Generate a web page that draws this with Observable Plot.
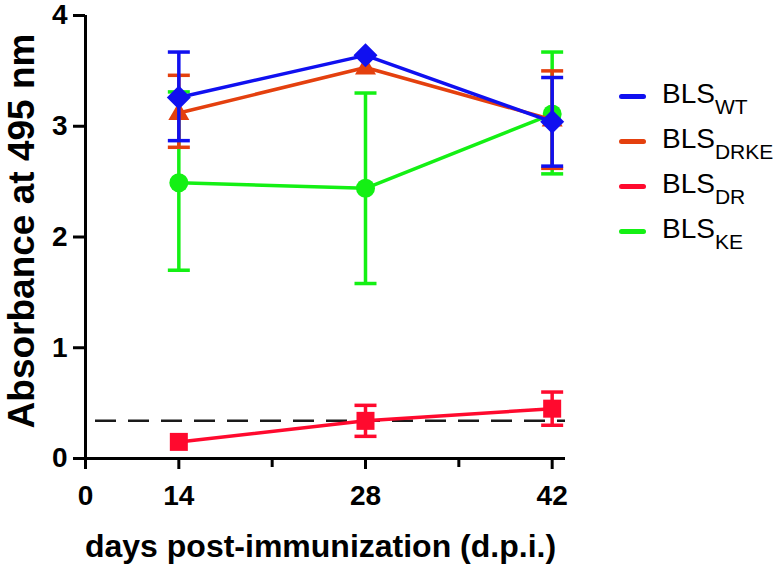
<!DOCTYPE html>
<html>
<head>
<meta charset="utf-8">
<script src="https://cdn.jsdelivr.net/npm/d3@7"></script>
<script src="https://cdn.jsdelivr.net/npm/@observablehq/plot@0.6"></script>
<style>
  html, body { margin: 0; padding: 0; background: #fff; }
  #wrap { position: relative; width: 782px; height: 574px; font-family: "Liberation Sans", Arial, sans-serif; }
  #legend { position: absolute; left: 619px; top: 80px; }
  .row { position: relative; height: 45px; }
  .sw { position: absolute; left: 0; top: 14px; width: 27px; height: 5px; border-radius: 3px; }
  .lbl { position: absolute; left: 43px; top: -1px; font-size: 28px; line-height: 30px; color: #000; white-space: nowrap; }
  .lbl sub { font-size: 21px; vertical-align: -11px; line-height: 0; }
</style>
</head>
<body>
<div id="wrap"><div id="legend"></div></div>
<script>
// ---- data ----
const days = [14, 28, 42];
const seriesNames = ["WT", "DRKE", "DR", "KE"];
const seriesColors = ["#1010F0", "#E4400E", "#FF0A2E", "#14F014"];
const wtMean   = [3.26, 3.64, 3.04];
const wtLow    = [2.87, 3.64, 2.64];
const wtHigh   = [3.67, 3.64, 3.44];
const drkeMean = [3.12, 3.53, 3.06];
const drkeLow  = [2.81, 3.53, 2.62];
const drkeHigh = [3.46, 3.53, 3.50];
const drMean   = [0.15, 0.34, 0.45];
const drLow    = [0.15, 0.20, 0.30];
const drHigh   = [0.15, 0.48, 0.60];
const keMean   = [2.49, 2.44, 3.11];
const keLow    = [1.70, 1.58, 2.57];
const keHigh   = [3.31, 3.30, 3.67];
const cutoff = 0.34;
const xTicks = [7, 14, 28, 42];       // the axis origin is drawn and labelled "0"
const xTickLabels = ["0", "14", "28", "42"];
const xMinorTicks = [21, 35];
const yTicks = [0, 1, 2, 3, 4];
const yTitle = "Absorbance at 495 nm";
const xTitle = "days post-immunization (d.p.i.)";

function rows(name, mean, low, high) {
  return days.map((d, i) => ({series: name, day: d, mean: mean[i], low: low[i], high: high[i]}));
}
const allSeries = {
  WT: rows("WT", wtMean, wtLow, wtHigh),
  DRKE: rows("DRKE", drkeMean, drkeLow, drkeHigh),
  DR: rows("DR", drMean, drLow, drHigh),
  KE: rows("KE", keMean, keLow, keHigh)
};
const colorOf = Object.fromEntries(seriesNames.map((n, i) => [n, seriesColors[i]]));

// ---- custom symbols ----
const capSym = {draw(c) { c.moveTo(-11, 0); c.lineTo(11, 0); }};
const diamondSym = {draw(c) { c.moveTo(0, -12); c.lineTo(12, 0); c.lineTo(0, 12); c.lineTo(-12, 0); c.closePath(); }};
const triSym = {draw(c) { c.moveTo(0, -11); c.lineTo(10.5, 7); c.lineTo(-10.5, 7); c.closePath(); }};
const sqSym = {draw(c) { c.moveTo(-9, -9); c.lineTo(9, -9); c.lineTo(9, 9); c.lineTo(-9, 9); c.closePath(); }};
const circSym = {draw(c) { c.moveTo(9.5, 0); c.arc(0, 0, 9.5, 0, 2 * Math.PI); }};
const symbolOf = {WT: diamondSym, DRKE: triSym, DR: sqSym, KE: circSym};

const drawOrder = ["KE", "DR", "DRKE", "WT"];
const seriesMarks = drawOrder.flatMap(name => {
  const data = allSeries[name];
  const col = colorOf[name];
  const err = data.filter(d => d.high > d.low);
  return [
    Plot.line(data, {x: "day", y: "mean", stroke: col, strokeWidth: 3.5}),
    Plot.ruleX(err, {x: "day", y1: "low", y2: "high", stroke: col, strokeWidth: 3.5}),
    Plot.dot(err, {x: "day", y: "low", symbol: capSym, stroke: col, strokeWidth: 3.5, fill: "none"}),
    Plot.dot(err, {x: "day", y: "high", symbol: capSym, stroke: col, strokeWidth: 3.5, fill: "none"}),
    Plot.dot(data, {x: "day", y: "mean", symbol: symbolOf[name], fill: col, stroke: "none"})
  ];
});

const chart = Plot.plot({
  width: 782,
  height: 574,
  marginLeft: 85,
  marginRight: 217,
  marginTop: 15,
  marginBottom: 116,
  style: {fontFamily: "'Liberation Sans', Arial, sans-serif", background: "#fff", overflow: "visible"},
  x: {domain: [7, 43], axis: null},
  y: {domain: [0, 4], axis: null},
  marks: [
    Plot.ruleY([cutoff], {stroke: "#1a1a1a", strokeWidth: 2.5, strokeDasharray: "21,12", strokeDashoffset: -10}),
    ...seriesMarks,
    Plot.axisY({ticks: yTicks, tickFormat: d => String(d), tickSize: 12, tickPadding: 6, fontSize: 28, fontWeight: "bold", strokeWidth: 3, color: "#000", label: null}),
    Plot.axisX({ticks: xTicks, tickFormat: d => xTickLabels[xTicks.indexOf(d)], tickSize: 11, tickPadding: 16, fontSize: 28, fontWeight: "bold", strokeWidth: 3, color: "#000", label: null}),
    Plot.axisX({ticks: xMinorTicks, tickFormat: () => "", tickSize: 9, strokeWidth: 3, color: "#000", label: null}),
    Plot.ruleX([7], {stroke: "#000", strokeWidth: 3}),
    Plot.ruleY([0], {stroke: "#000", strokeWidth: 3}),
    Plot.text([yTitle], {frameAnchor: "left", textAnchor: "middle", rotate: -90, dx: -63, dy: -6, fontSize: 37, fontWeight: "bold", fill: "#000"}),
    Plot.text([xTitle], {frameAnchor: "bottom", textAnchor: "middle", dx: -5, dy: 98, fontSize: 32, fontWeight: "bold", fill: "#000"})
  ]
});
document.getElementById("wrap").prepend(chart);

const legend = document.getElementById("legend");
seriesNames.forEach((n, i) => {
  const row = document.createElement("div");
  row.className = "row";
  row.innerHTML = `<div class="sw" style="background:${seriesColors[i]}"></div><div class="lbl">BLS<sub>${n}</sub></div>`;
  legend.appendChild(row);
});
</script>
</body>
</html>
